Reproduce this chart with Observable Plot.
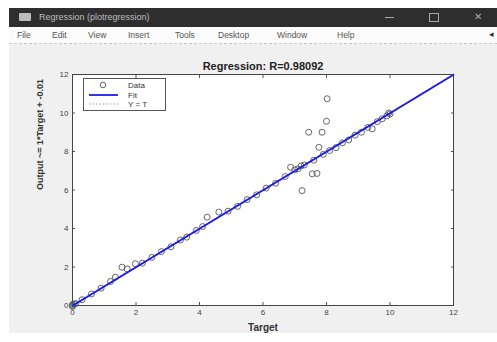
<!DOCTYPE html>
<html><head><meta charset="utf-8">
<script src="https://cdn.jsdelivr.net/npm/d3@7"></script>
<script src="https://cdn.jsdelivr.net/npm/@observablehq/plot@0.6"></script>
<style>
body{margin:0;width:497px;height:342px;background:#fff;position:relative;overflow:hidden;font-family:"Liberation Sans",Arial,sans-serif;}
#titlebar{position:absolute;left:9px;top:8px;width:488px;height:19px;background:#2e2e2e;color:#bdbdbd;font-size:9px;}
#menubar{position:absolute;left:9px;top:27px;width:488px;height:16px;background:#fbfbfb;border-bottom:1px dashed #c8c8c8;color:#555;font-size:8.5px;}
#fig{position:absolute;left:9px;top:44px;width:488px;height:289px;background:#f0f0f0;}
#chart{position:absolute;left:0;top:45px;}
#legend{position:absolute;left:83px;top:78px;width:81px;height:31px;background:#fff;border:1px solid #555;font-size:8px;color:#222;}
</style></head>
<body>
<div id="titlebar">
  <div style="position:absolute;left:10px;top:5px;width:12px;height:8px;background:#bbb;border-radius:1px"></div>
  <div style="position:absolute;left:30px;top:4px;">Regression (plotregression)</div>
  <div style="position:absolute;left:376px;top:9px;width:9px;height:1px;background:#aaa"></div>
  <div style="position:absolute;left:420px;top:5px;width:8px;height:7px;border:1px solid #aaa"></div>
  <div style="position:absolute;left:465px;top:3px;color:#aaa;font-size:10px">✕</div>
</div>
<div id="menubar"></div>
<div id="fig"></div>
<div id="chart"></div>
<div id="legend"></div>
<script>
const menuItems = ["File","Edit","View","Insert","Tools","Desktop","Window","Help"];
const menuX = [8,43,79,119,166,209,268,328];

const target = [0,0,0,0.05,0.1,0.3,0.6,0.9,1.2,1.35,1.56,1.72,1.98,2.2,2.5,2.8,3.1,3.4,3.6,3.9,4.1,4.24,4.61,4.9,5.2,5.5,5.8,6.1,6.4,6.7,6.87,7.0,7.1,7.2,7.3,7.23,7.44,7.55,7.7,7.76,7.86,8.0,8.02,7.6,7.9,8.1,8.3,8.5,8.7,8.9,9.1,9.3,9.44,9.6,9.75,9.9,9.96,10.0];
const output = [0,0.05,-0.05,0.08,0.1,0.3,0.6,0.9,1.25,1.47,1.99,1.9,2.17,2.2,2.5,2.8,3.05,3.4,3.55,3.9,4.1,4.59,4.85,4.9,5.15,5.5,5.75,6.1,6.35,6.7,7.18,7.05,7.1,7.25,7.3,5.97,9.0,6.84,6.86,8.22,9.0,9.57,10.74,7.55,7.85,8.05,8.2,8.45,8.6,8.85,9.0,9.25,9.18,9.55,9.7,9.85,10.0,9.95];

const fitSlope = 1, fitIntercept = -0.01;
const axisMin = 0, axisMax = 12;
const ticks = [0,2,4,6,8,10,12];
const titleText = "Regression: R=0.98092";
const xLabel = "Target";
const yLabel = "Output ~= 1*Target + -0.01";

const mb = document.getElementById("menubar");
menuItems.forEach((m,i)=>{const s=document.createElement("span");s.textContent=m;s.style.cssText=`position:absolute;left:${menuX[i]}px;top:3px`;mb.appendChild(s);});
const arr=document.createElement("span");arr.textContent="◂";arr.style.cssText="position:absolute;left:480px;top:2px;color:#333";mb.appendChild(arr);

const pts = target.map((t,i)=>({t, o: output[i]}));
const fitLine = [axisMin, axisMax].map(v=>({x:v, y: fitSlope*v + fitIntercept}));
const idLine = [axisMin, axisMax].map(v=>({x:v, y:v}));

const chart = Plot.plot({
  width: 497, height: 288,
  marginLeft: 72, marginRight: 44, marginTop: 29, marginBottom: 28,
  style: {fontFamily: '"Liberation Sans", Arial, sans-serif', fontSize: "8px", color: "#444", background: "transparent"},
  x: {domain: [axisMin, axisMax], ticks},
  y: {domain: [axisMin, axisMax], ticks},
  marks: [
    Plot.frame({fill: "white"}),
    Plot.axisX({anchor: "bottom", ticks, tickSize: -3, tickPadding: 7, label: null, stroke: "#555"}),
    Plot.axisX({anchor: "top", ticks, tickSize: -3, tickFormat: () => "", label: null, stroke: "#555"}),
    Plot.axisY({anchor: "left", ticks, tickSize: -3, tickPadding: 7, label: null, stroke: "#555"}),
    Plot.axisY({anchor: "right", ticks, tickSize: -3, tickFormat: () => "", label: null, stroke: "#555"}),
    Plot.frame({stroke: "#444", strokeWidth: 1}),
    Plot.line(idLine, {x: "x", y: "y", stroke: "#999", strokeDasharray: "1.5,2"}),
    Plot.dot(pts, {x: "t", y: "o", r: 3, stroke: "#555", strokeWidth: 0.9, fill: "none"}),
    Plot.line(fitLine, {x: "x", y: "y", stroke: "#1a1aee", strokeWidth: 1.8}),
    Plot.text([titleText], {frameAnchor: "top", dy: -12, fontWeight: "bold", fontSize: 11, fill: "#222"}),
    Plot.text([xLabel], {frameAnchor: "bottom", dy: 25, fontWeight: "bold", fontSize: 10, fill: "#333"}),
    Plot.text([yLabel], {frameAnchor: "left", dx: -32, rotate: -90, fontWeight: "bold", fontSize: 9, fill: "#333"})
  ]
});
document.getElementById("chart").appendChild(chart);

const leg = document.getElementById("legend");
leg.innerHTML = `
<svg width="81" height="31" style="position:absolute;left:0;top:0">
  <circle cx="19" cy="6" r="2.8" fill="none" stroke="#555" stroke-width="0.9"/>
  <line x1="5" x2="34" y1="16" y2="16" stroke="#1a1aee" stroke-width="1.8"/>
  <line x1="5" x2="34" y1="25" y2="25" stroke="#999" stroke-dasharray="1.5,2"/>
  <text x="44" y="9" font-size="8" fill="#333">Data</text>
  <text x="44" y="19" font-size="8" fill="#333">Fit</text>
  <text x="44" y="28" font-size="8" fill="#333">Y = T</text>
</svg>`;
</script>
</body></html>
